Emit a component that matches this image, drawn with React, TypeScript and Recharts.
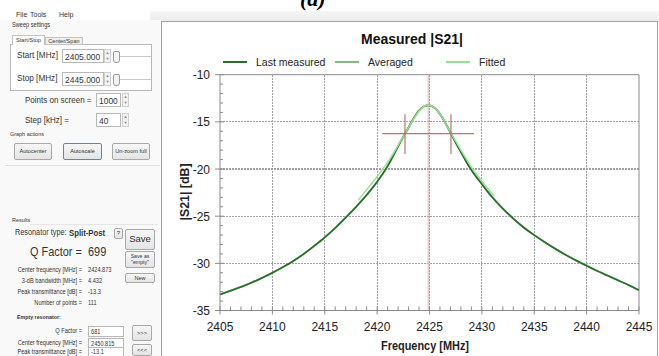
import React from "react";
import { LineChart, Line, XAxis, YAxis, ReferenceLine, Label } from "recharts";

// |S21| readings (MHz, dB)
const measuredFreq = [
  2405, 2406, 2407, 2408, 2409, 2410, 2411, 2412, 2413, 2414, 2415, 2416, 2417,
  2418, 2419, 2420, 2421, 2422, 2422.66, 2423, 2423.5, 2424, 2424.5, 2424.87,
  2425.25, 2425.75, 2426.25, 2426.75, 2427.05, 2427.5, 2428, 2428.5, 2429, 2430,
  2431, 2432, 2433, 2434, 2435, 2436, 2437, 2438, 2439, 2440, 2441, 2442, 2443,
  2444, 2445,
];
const measuredDb = [
  -33.3, -32.9, -32.5, -32.05, -31.55, -31.0, -30.4, -29.75, -29.0, -28.15, -27.25,
  -26.25, -25.15, -24.0, -22.75, -21.35, -19.7, -17.6, -16.25, -15.6, -14.6, -13.8,
  -13.35, -13.25, -13.35, -13.8, -14.6, -15.6, -16.25, -17.2, -18.2, -19.2,
  -20.1, -21.6, -23.0, -24.2, -25.25, -26.2, -27.0, -27.75, -28.45, -29.1, -29.7,
  -30.25, -30.8, -31.3, -31.8, -32.3, -32.85,
];
// the averaged trace sits on top of the last measured one
const averagedDb = [...measuredDb];

const fittedFreq = [
  2418.2, 2419, 2420, 2421, 2422, 2422.66, 2423, 2423.5, 2424, 2424.5, 2424.87,
  2425.25, 2425.75, 2426.25, 2426.75, 2427.05, 2427.5, 2428, 2428.5, 2429, 2430,
  2431.2,
];
const fittedDb = [
  -23.3, -22.2, -20.8, -19.3, -17.5, -16.25, -15.6, -14.65, -13.85, -13.35,
  -13.25, -13.35, -13.8, -14.6, -15.6, -16.2, -17.05, -18.0, -18.9, -19.8,
  -21.3, -22.9,
];

const xMajor = [2405, 2410, 2415, 2420, 2425, 2430, 2435, 2440, 2445];
const yMajor = [-35, -30, -25, -20, -15, -10];

// 3 dB markers
const centerFreq = 2424.873;
const halfPowerDb = -16.25;
const lowerCut = 2422.66;
const upperCut = 2427.05;
const crossSpan = [2420.5, 2429.25];
const cutTickDb = [-14.2, -18.4];

const xAll: number[] = [];
for (let f = 2405; f <= 2445; f++) xAll.push(f);
const yAll: number[] = [];
for (let d = -35; d <= -10; d++) yAll.push(d);

const measured = measuredFreq.map((f, i) => ({ f, db: measuredDb[i] }));
const averaged = measuredFreq.map((f, i) => ({ f, db: averagedDb[i] }));
const fitted = fittedFreq.map((f, i) => ({ f, db: fittedDb[i] }));

const AXIS = "#8a8a8a";
const GRID = "#a2a2a2";
const MARK = "#b9786c";
const C_MEAS = "#2c6a2e";
const C_AVG = "#86b886";
const C_FIT = "#98e098";
const FONT = "'Liberation Sans', Arial, sans-serif";
const S = 0.88;

function XTick(p: any) {
  const { x, y, payload } = p;
  const v = payload.value;
  const major = v % 5 === 0;
  return (
    <g>
      <line x1={x} x2={x} y1={y - 4} y2={major ? y + 4 : y} stroke={AXIS} />
      {major && (
        <text x={x} y={y + 20} textAnchor="middle" fontSize={12} fill="#222" fontFamily={FONT}>
          {v}
        </text>
      )}
    </g>
  );
}

function YTick(p: any) {
  const { x, y, payload } = p;
  const v = payload.value;
  const major = v % 5 === 0;
  return (
    <g>
      <line x1={major ? x - 5 : x} x2={x + (major ? 4 : 3)} y1={y} y2={y} stroke={AXIS} />
      {major && (
        <text x={x - 10} y={y + 4.5} textAnchor="end" fontSize={12} fill="#222" fontFamily={FONT}>
          {v}
        </text>
      )}
    </g>
  );
}

function Txt({ x, y, s, b = false, anchor = "start", sx = S, color = "#333", children }: any) {
  const style: React.CSSProperties = {
    position: "absolute",
    left: x,
    top: y - s * 0.6,
    lineHeight: `${s * 1.2}px`,
    fontSize: s,
    fontWeight: b ? "bold" : "normal",
    whiteSpace: "nowrap",
    color,
  };
  if (anchor === "end") {
    style.transform = `translateX(-100%) scaleX(${sx})`;
    style.transformOrigin = "right center";
  } else if (anchor === "middle") {
    style.transform = `translateX(-50%) scaleX(${sx})`;
  } else {
    style.transform = `scaleX(${sx})`;
    style.transformOrigin = "left center";
  }
  return <div style={style}>{children}</div>;
}

function Box({ x, y, w, h, bg = "#fff", border = "#b8b8b8", radius = 0, children }: any) {
  return (
    <div
      style={{
        position: "absolute",
        left: x,
        top: y,
        width: w,
        height: h,
        boxSizing: "border-box",
        background: bg,
        border: `1px solid ${border}`,
        borderRadius: radius,
      }}
    >
      {children}
    </div>
  );
}

function Btn({ x, y, w, h, s = 6, focus = false, children }: any) {
  return (
    <div
      style={{
        position: "absolute",
        left: x,
        top: y,
        width: w,
        height: h,
        boxSizing: "border-box",
        border: `1px solid ${focus ? "#4a8cc4" : "#a8a8a8"}`,
        borderRadius: 2,
        background: "linear-gradient(#f7f7f7, #e4e4e4)",
        display: "flex",
        alignItems: "center",
        justifyContent: "center",
        textAlign: "center",
        fontSize: s,
        lineHeight: 1.1,
        color: "#333",
      }}
    >
      {children}
    </div>
  );
}

function Spin({ x, y, h }: any) {
  return (
    <Box x={x} y={y} w={7} h={h} bg="#f2f2f2" border="#cfcfcf">
      <div style={{ fontSize: 4, lineHeight: `${(h - 2) / 2}px`, textAlign: "center", color: "#888" }}>▲</div>
      <div style={{ fontSize: 4, lineHeight: `${(h - 2) / 2}px`, textAlign: "center", color: "#888" }}>▼</div>
    </Box>
  );
}

function Slider({ x, y }: any) {
  return (
    <>
      <div style={{ position: "absolute", left: x + 5, top: y, width: 33, height: 1, background: "#c8c8c8" }} />
      <div
        style={{
          position: "absolute",
          left: x,
          top: y - 5,
          width: 5,
          height: 10,
          border: "1px solid #9a9a9a",
          borderRadius: "2px 2px 3px 3px",
          background: "#f4f4f4",
        }}
      />
    </>
  );
}

function LeftPanel() {
  return (
    <div style={{ position: "absolute", left: 0, top: 0, width: 161, height: 356, fontFamily: FONT }}>
      <div style={{ position: "absolute", left: 0, top: 20, width: 161, height: 336, background: "#f9f9f9" }} />
      <Txt x={16} y={15} s={7} sx={1}>File</Txt>
      <Txt x={30} y={15} s={7} sx={1}>Tools</Txt>
      <Txt x={59} y={15} s={7} sx={1}>Help</Txt>
      <Txt x={12} y={25} s={6.4}>Sweep settings</Txt>

      <Box x={10} y={44} w={142} h={47} />
      <Box x={12} y={35} w={33} h={10} bg="#fff" border="#c4c4c4">
        <div style={{ fontSize: 5.6, lineHeight: "8px", textAlign: "center", color: "#333" }}>Start/Stop</div>
      </Box>
      <Box x={45} y={37} w={38} h={8} bg="#f0f0f0" border="#c4c4c4">
        <div style={{ fontSize: 5.6, lineHeight: "6px", textAlign: "center", color: "#333" }}>Center/Span</div>
      </Box>
      <div style={{ position: "absolute", left: 13, top: 44, width: 31, height: 1, background: "#fff" }} />

      <Txt x={17} y={56} s={9.3}>Start [MHz]</Txt>
      <Box x={62} y={49} w={42} h={14}>
        <Txt x={2} y={6.5} s={9.6}>2405.000</Txt>
      </Box>
      <Spin x={104} y={49} h={14} />
      <Slider x={113} y={56} />

      <Txt x={17} y={79} s={9.3}>Stop [MHz]</Txt>
      <Box x={62} y={72} w={42} h={14}>
        <Txt x={2} y={6.5} s={9.6}>2445.000</Txt>
      </Box>
      <Spin x={104} y={72} h={14} />
      <Slider x={113} y={79} />

      <Txt x={25} y={100} s={9.1}>Points on screen =</Txt>
      <Box x={96} y={93} w={25} h={14}>
        <Txt x={2} y={6.5} s={9.6}>1000</Txt>
      </Box>
      <Spin x={122} y={93} h={14} />
      <Txt x={25} y={120} s={9.1}>Step [kHz] =</Txt>
      <Box x={96} y={113} w={25} h={14}>
        <Txt x={2} y={6.5} s={9.6}>40</Txt>
      </Box>
      <Spin x={122} y={113} h={14} />

      <Txt x={10} y={134} s={6.2}>Graph actions</Txt>
      <Btn x={14} y={143} w={38} h={17} s={5.6}>Autocenter</Btn>
      <Btn x={63} y={143} w={39} h={17} s={5.6} focus>Autoscale</Btn>
      <Btn x={112} y={143} w={38} h={17} s={5.6}>Un-zoom full</Btn>
      <div style={{ position: "absolute", left: 5, top: 165, width: 155, height: 1, background: "#e2e2e2" }} />

      <Txt x={12} y={220} s={6.2}>Results</Txt>
      <div style={{ position: "absolute", left: 30, top: 224, width: 128, height: 1, background: "#e6e6e6" }} />
      <Txt x={15} y={233} s={8.3}>Resonator type:</Txt>
      <Txt x={69} y={233} s={8.8} b>Split-Post</Txt>
      <Btn x={114} y={228} w={9} h={11} s={6}>?</Btn>
      <Btn x={125} y={229} w={30} h={21} s={9.5}>Save</Btn>
      <Txt x={30} y={252} s={12.4}>Q Factor =</Txt>
      <Txt x={88} y={252} s={12.4}>699</Txt>
      <Btn x={125} y={251} w={30} h={17} s={5.2}>
        Save as
        <br />
        "empty"
      </Btn>
      <Btn x={125} y={273} w={30} h={10} s={5.6}>New</Btn>

      <Txt x={82} y={270} s={6.4} anchor="end">Center frequency [MHz] =</Txt>
      <Txt x={88} y={270} s={6.4}>2424.873</Txt>
      <Txt x={82} y={281} s={6.4} anchor="end">3-dB bandwidth [MHz] =</Txt>
      <Txt x={88} y={281} s={6.4}>4.432</Txt>
      <Txt x={82} y={292} s={6.4} anchor="end">Peak transmittance [dB] =</Txt>
      <Txt x={88} y={292} s={6.4}>-13.3</Txt>
      <Txt x={82} y={303} s={6.4} anchor="end">Number of points =</Txt>
      <Txt x={88} y={303} s={6.4}>111</Txt>

      <Txt x={17} y={318} s={6} b>Empty resonator:</Txt>
      <Txt x={82} y={331} s={6.4} anchor="end">Q Factor =</Txt>
      <Box x={88} y={326} w={36} h={11}>
        <Txt x={2} y={5} s={6.4}>681</Txt>
      </Box>
      <Txt x={82} y={343} s={6.4} anchor="end">Center frequency [MHz] =</Txt>
      <Box x={88} y={338} w={36} h={11}>
        <Txt x={2} y={5} s={6.4}>2450.815</Txt>
      </Box>
      <Txt x={82} y={352} s={6.4} anchor="end">Peak transmittance [dB] =</Txt>
      <Box x={88} y={347} w={36} h={11}>
        <Txt x={2} y={4} s={6.4}>-13.1</Txt>
      </Box>
      <Btn x={132} y={325} w={20} h={16} s={5.6}>&gt;&gt;&gt;</Btn>
      <Btn x={132} y={344} w={20} h={12} s={5.6}>&lt;&lt;&lt;</Btn>
    </div>
  );
}

function LegendItem({ x, color, label }: any) {
  return (
    <>
      <div style={{ position: "absolute", left: x, top: 61, width: 24, height: 1.6, background: color }} />
      <Txt x={x + 33} y={62} s={10.5} sx={1} color="#222">{label}</Txt>
    </>
  );
}

export default function App() {
  return (
    <div
      style={{
        position: "fixed",
        left: 0,
        top: 0,
        width: 659,
        height: 356,
        overflow: "hidden",
        background: "#fff",
        fontFamily: FONT,
      }}
    >
      <div
        style={{
          position: "absolute",
          left: 300,
          top: -12.4,
          fontFamily: "'Liberation Serif', serif",
          fontSize: 22,
          lineHeight: "22px",
          fontWeight: "bold",
          fontStyle: "italic",
        }}
      >
        (a)
      </div>
      <div
        style={{
          position: "absolute",
          left: 150,
          top: 11,
          width: 509,
          height: 10,
          background: "linear-gradient(#f6f6f6, #ebebeb)",
        }}
      />
      <LeftPanel />
      <div
        style={{
          position: "absolute",
          left: 161,
          top: 21,
          width: 497,
          height: 340,
          boxSizing: "border-box",
          border: "1px solid #a4a4a4",
          background: "#fff",
        }}
      />

      <div style={{ position: "absolute", left: 161, top: 22 }}>
        <LineChart width={498} height={334} margin={{ top: 52.7, right: 20, bottom: 0, left: 0 }}>
          <XAxis
            dataKey="f"
            type="number"
            domain={[2405, 2445]}
            ticks={xAll}
            interval={0}
            tickSize={0}
            tickMargin={0}
            tick={(p: any) => <XTick {...p} />}
            axisLine={{ stroke: AXIS }}
            height={45.5}
            allowDataOverflow
          >
            <Label
              content={() => (
                <text
                  x={264}
                  y={328}
                  textAnchor="middle"
                  fontSize={12.5}
                  fontWeight="bold"
                  fill="#222"
                  fontFamily={FONT}
                  textLength={88}
                  lengthAdjust="spacingAndGlyphs"
                >
                  Frequency [MHz]
                </text>
              )}
            />
          </XAxis>
          <YAxis
            dataKey="db"
            type="number"
            domain={[-35, -10]}
            ticks={yAll}
            interval={0}
            tickSize={0}
            tickMargin={0}
            tick={(p: any) => <YTick {...p} />}
            axisLine={{ stroke: AXIS }}
            width={59}
            allowDataOverflow
          >
            <Label
              content={() => (
                <text
                  x={28}
                  y={170}
                  transform="rotate(-90 28 170)"
                  textAnchor="middle"
                  fontSize={12.5}
                  fontWeight="bold"
                  fill="#222"
                  fontFamily={FONT}
                  textLength={57}
                  lengthAdjust="spacingAndGlyphs"
                >
                  |S21| [dB]
                </text>
              )}
            />
          </YAxis>

          {xMajor.slice(1, -1).map((f) => (
            <ReferenceLine
              key={`gx${f}`}
              x={f}
              stroke={GRID}
              strokeWidth={1.2}
              strokeDasharray="1.5 1.5"
              shapeRendering="crispEdges"
            />
          ))}
          {yMajor.slice(1, -1).map((d) => (
            <ReferenceLine
              key={`gy${d}`}
              y={d}
              stroke={GRID}
              strokeWidth={1.2}
              strokeDasharray="1.5 1.5"
              shapeRendering="crispEdges"
            />
          ))}
          <ReferenceLine y={-10} stroke={AXIS} />
          <ReferenceLine x={2445} stroke={AXIS} />

          <Line data={averaged} dataKey="db" type="monotone" stroke={C_AVG} strokeWidth={2} dot={false} isAnimationActive={false} />
          <Line data={measured} dataKey="db" type="monotone" stroke={C_MEAS} strokeWidth={1.6} dot={false} isAnimationActive={false} />
          <Line data={fitted} dataKey="db" type="monotone" stroke={C_FIT} strokeWidth={1.5} dot={false} isAnimationActive={false} />

          <ReferenceLine x={centerFreq} stroke="#e0b0b0" strokeWidth={1} />
          <ReferenceLine
            segment={[
              { x: crossSpan[0], y: halfPowerDb },
              { x: crossSpan[1], y: halfPowerDb },
            ]}
            stroke={MARK}
            strokeWidth={1.2}
          />
          <ReferenceLine
            segment={[
              { x: lowerCut, y: cutTickDb[0] },
              { x: lowerCut, y: cutTickDb[1] },
            ]}
            stroke={MARK}
            strokeWidth={1.2}
          />
          <ReferenceLine
            segment={[
              { x: upperCut, y: cutTickDb[0] },
              { x: upperCut, y: cutTickDb[1] },
            ]}
            stroke={MARK}
            strokeWidth={1.2}
          />
        </LineChart>
      </div>

      <Txt x={412} y={39} s={14} b sx={1} anchor="middle" color="#111">Measured |S21|</Txt>
      <LegendItem x={223} color={C_MEAS} label="Last measured" />
      <LegendItem x={335} color={C_AVG} label="Averaged" />
      <LegendItem x={446} color={C_FIT} label="Fitted" />
    </div>
  );
}
